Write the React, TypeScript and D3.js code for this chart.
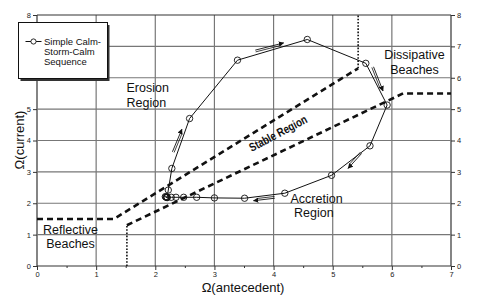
import React, { useEffect, useRef } from "react";
import * as d3 from "d3";

// ---- data ----
const xTicks = [0, 1, 2, 3, 4, 5, 6, 7];
const yTicks = [0, 1, 2, 3, 4, 5, 6, 7, 8];
const xMinorTicks = [0.5, 1.5, 2.5, 3.5, 4.5, 5.5, 6.5];

// Simple Calm-Storm-Calm sequence
const seqX = [2.19, 2.17, 2.2, 2.22, 2.28, 2.58, 3.39, 4.57, 5.56, 5.92, 5.63, 4.98, 4.19, 3.51, 3.0, 2.7, 2.48, 2.35, 2.27, 2.2, 2.18];
const seqY = [2.19, 2.21, 2.18, 2.42, 3.11, 4.7, 6.56, 7.22, 6.46, 5.13, 3.83, 2.89, 2.32, 2.16, 2.17, 2.19, 2.19, 2.19, 2.19, 2.19, 2.2];

// Region boundaries (dashed)
const upperBoundX = [0, 1.3, 5.43];
const upperBoundY = [1.5, 1.5, 6.3];
const lowerBoundX = [1.52, 6.19, 7];
const lowerBoundY = [1.3, 5.5, 5.5];
// vertical dotted lines
const dottedX = [1.52, 5.43];
const dottedY0 = [0, 6.3];
const dottedY1 = [1.3, 8];

// direction arrows
const arrowX1 = [2.29, 3.69, 5.69, 5.49, 4.02];
const arrowY1 = [3.64, 6.88, 6.35, 3.59, 2.16];
const arrowX2 = [2.45, 4.17, 5.85, 5.26, 3.66];
const arrowY2 = [4.36, 7.11, 5.58, 3.11, 2.08];

const legendLines = ["Simple Calm-", "Storm-Calm", "Sequence"];
const xTitle = "Ω(antecedent)";
const yTitle = "Ω(current)";

const W = 480;
const H = 301;
const FONT = "'Liberation Sans', Arial, sans-serif";

export default function App() {
  const ref = useRef<SVGSVGElement | null>(null);

  useEffect(() => {
    const svg = d3.select(ref.current);
    svg.selectAll("*").remove();

    const x = d3.scaleLinear().domain([0, 7]).range([37, 451]);
    const y = d3.scaleLinear().domain([0, 8]).range([266, 15]);

    const defs = svg.append("defs");
    defs
      .append("marker")
      .attr("id", "ah")
      .attr("viewBox", "0 0 10 10")
      .attr("refX", 9)
      .attr("refY", 5)
      .attr("markerWidth", 6)
      .attr("markerHeight", 6)
      .attr("orient", "auto")
      .append("path")
      .attr("d", "M0,0 L10,5 L0,10 z")
      .attr("fill", "#111");

    svg.append("rect").attr("width", W).attr("height", H).attr("fill", "#fff");

    // grid
    const grid = svg.append("g");
    grid
      .selectAll("line.v")
      .data(xTicks)
      .join("line")
      .attr("x1", (d) => x(d))
      .attr("x2", (d) => x(d))
      .attr("y1", y(8))
      .attr("y2", y(0))
      .attr("stroke", (d) => (d === 0 || d === 7 ? "#333" : "#777"))
      .attr("stroke-width", 1.2);
    grid
      .selectAll("line.h")
      .data(yTicks)
      .join("line")
      .attr("class", "h")
      .attr("x1", x(0))
      .attr("x2", x(7))
      .attr("y1", (d) => y(d))
      .attr("y2", (d) => y(d))
      .attr("stroke", (d) => (d === 0 || d === 8 ? "#333" : "#777"))
      .attr("stroke-width", 1.2);

    // axes
    const styleAxis = (g: any) => {
      g.select(".domain").remove();
      g.selectAll(".tick line").attr("stroke", "#333").attr("stroke-width", 1);
      g.selectAll(".tick text").attr("font-family", FONT).attr("font-size", 7.5).attr("fill", "#222");
    };
    svg
      .append("g")
      .attr("transform", `translate(0,${y(0)})`)
      .call(d3.axisBottom(x).tickValues(xTicks).tickSize(4).tickPadding(2).tickFormat(d3.format("d")))
      .call(styleAxis);
    svg
      .append("g")
      .attr("transform", `translate(0,${y(0)})`)
      .call(d3.axisBottom(x).tickValues(xMinorTicks).tickSize(2).tickFormat(() => ""))
      .call(styleAxis);
    svg
      .append("g")
      .attr("transform", `translate(${x(0)},0)`)
      .call(d3.axisLeft(y).tickValues(yTicks).tickSize(4).tickPadding(2).tickFormat(d3.format("d")))
      .call(styleAxis);
    svg
      .append("g")
      .attr("transform", `translate(${x(7)},0)`)
      .call(d3.axisRight(y).tickValues(yTicks).tickSize(4).tickPadding(2).tickFormat(d3.format("d")))
      .call(styleAxis);

    // boundaries
    const line = d3
      .line<[number, number]>()
      .x((d) => x(d[0]))
      .y((d) => y(d[1]));
    const up: [number, number][] = upperBoundX.map((v, i) => [v, upperBoundY[i]]);
    const lo: [number, number][] = lowerBoundX.map((v, i) => [v, lowerBoundY[i]]);
    [up, lo].forEach((pts) =>
      svg
        .append("path")
        .attr("d", line(pts))
        .attr("fill", "none")
        .attr("stroke", "#111")
        .attr("stroke-width", 2.6)
        .attr("stroke-dasharray", "6,4")
    );
    dottedX.forEach((v, i) =>
      svg
        .append("line")
        .attr("x1", x(v))
        .attr("x2", x(v))
        .attr("y1", y(dottedY0[i]))
        .attr("y2", y(dottedY1[i]))
        .attr("stroke", "#111")
        .attr("stroke-width", 1.6)
        .attr("stroke-dasharray", "1.6,1.6")
    );

    // sequence
    const seq: [number, number][] = seqX.map((v, i) => [v, seqY[i]]);
    svg
      .append("path")
      .attr("d", line(seq))
      .attr("fill", "none")
      .attr("stroke", "#111")
      .attr("stroke-width", 1);
    svg
      .append("g")
      .selectAll("circle")
      .data(seq)
      .join("circle")
      .attr("cx", (d) => x(d[0]))
      .attr("cy", (d) => y(d[1]))
      .attr("r", 3.2)
      .attr("fill", "none")
      .attr("stroke", "#111")
      .attr("stroke-width", 0.9);

    // arrows
    arrowX1.forEach((v, i) => {
      const x1 = x(v), y1 = y(arrowY1[i]), x2 = x(arrowX2[i]), y2 = y(arrowY2[i]);
      const len = Math.hypot(x2 - x1, y2 - y1);
      const nx = (-(y2 - y1) / len) * 1.8, ny = ((x2 - x1) / len) * 1.8;
      svg
        .append("line")
        .attr("x1", x1)
        .attr("y1", y1)
        .attr("x2", x2)
        .attr("y2", y2)
        .attr("stroke", "#111")
        .attr("stroke-width", 0.9)
        .attr("marker-end", "url(#ah)");
      svg
        .append("line")
        .attr("x1", x1 + nx)
        .attr("y1", y1 + ny)
        .attr("x2", x2 + nx - (x2 - x1) / len * 4)
        .attr("y2", y2 + ny - (y2 - y1) / len * 4)
        .attr("stroke", "#111")
        .attr("stroke-width", 0.8);
    });

    // region labels
    const label = (t: string, px: number, py: number, anchor = "start") =>
      svg
        .append("text")
        .attr("x", px)
        .attr("y", py)
        .attr("text-anchor", anchor)
        .attr("font-family", FONT)
        .attr("font-size", 12.5)
        .attr("fill", "#111")
        .text(t);
    label("Erosion", 126.5, 92);
    label("Region", 126.5, 107);
    label("Dissipative", 414.5, 58.5, "middle");
    label("Beaches", 414.5, 73.5, "middle");
    label("Accretion", 290.5, 203);
    label("Region", 294, 217);
    label("Reflective", 70.5, 233.5, "middle");
    label("Beaches", 70.5, 247.5, "middle");

    svg
      .append("text")
      .attr("transform", "translate(280,137) rotate(-28) scale(0.8,1)")
      .attr("text-anchor", "middle")
      .attr("font-family", FONT)
      .attr("font-size", 12)
      .attr("font-weight", "bold")
      .attr("fill", "#111")
      .text("Stable Region");

    // axis titles
    svg
      .append("text")
      .attr("x", 243)
      .attr("y", 291.5)
      .attr("text-anchor", "middle")
      .attr("font-family", FONT)
      .attr("font-size", 13)
      .attr("fill", "#111")
      .text(xTitle);
    svg
      .append("text")
      .attr("transform", "translate(24,140) rotate(-90)")
      .attr("text-anchor", "middle")
      .attr("font-family", FONT)
      .attr("font-size", 13)
      .attr("fill", "#111")
      .text(yTitle);

    // legend
    const lg = svg.append("g");
    lg.append("rect").attr("x", 20.5).attr("y", 25).attr("width", 89).attr("height", 56).attr("fill", "#333");
    lg.append("rect")
      .attr("x", 18.5)
      .attr("y", 22.5)
      .attr("width", 89)
      .attr("height", 56)
      .attr("fill", "#fff")
      .attr("stroke", "#111")
      .attr("stroke-width", 1);
    lg.append("line").attr("x1", 25.5).attr("x2", 41.5).attr("y1", 41.5).attr("y2", 41.5).attr("stroke", "#111");
    lg.append("circle").attr("cx", 33.5).attr("cy", 41.5).attr("r", 2.6).attr("fill", "#fff").attr("stroke", "#111").attr("stroke-width", 0.9);
    legendLines.forEach((t, i) =>
      lg
        .append("text")
        .attr("x", 44)
        .attr("y", 45 + i * 10)
        .attr("font-family", FONT)
        .attr("font-size", 9.5)
        .attr("fill", "#111")
        .text(t)
    );
  }, []);

  return (
    <div style={{ position: "fixed", left: 0, top: 0 }}>
      <svg ref={ref} width={W} height={H} style={{ display: "block" }} />
    </div>
  );
}
